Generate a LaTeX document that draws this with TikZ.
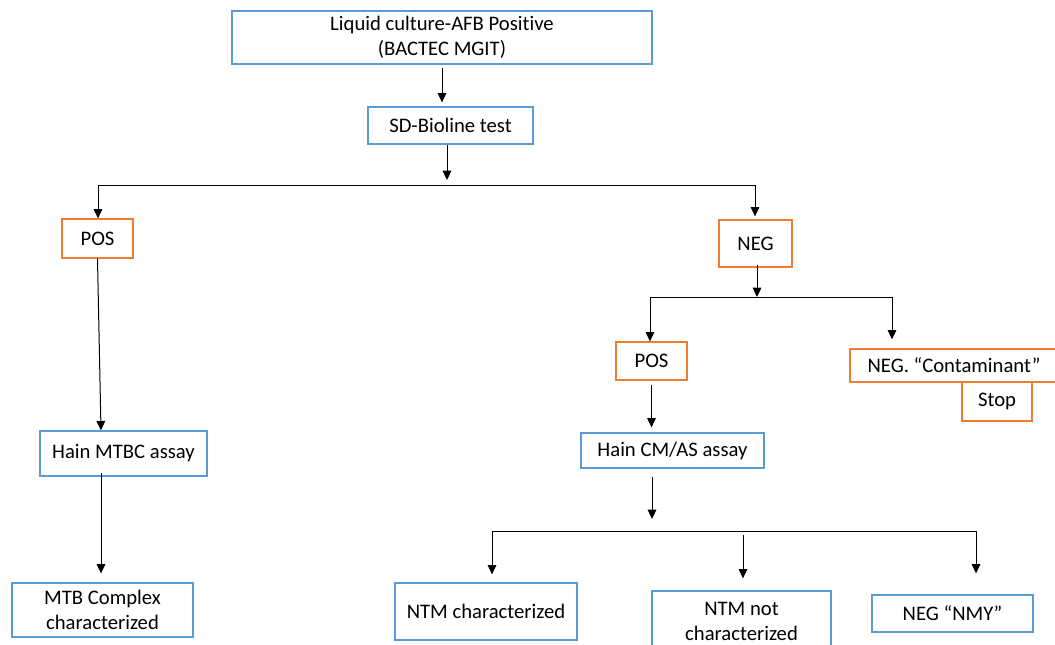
\documentclass[tikz,border=0pt]{standalone}
\usepackage{fontspec}
\setmainfont{Carlito}[Ligatures={NoCommon}]
\usepackage{tikz}
\usetikzlibrary{arrows.meta}
\definecolor{boxblue}{HTML}{5B9BD5}
\definecolor{boxorange}{HTML}{ED7D31}
\begin{document}
\begin{tikzpicture}[x=0.75pt, y=-0.75pt,
    every node/.style={font=\fontsize{15.5}{18.5}\selectfont, align=center, inner sep=0pt},
    sz/.style 2 args={minimum width=#1*0.75pt, minimum height=#2*0.75pt},
    bluebox/.style={draw=boxblue, line width=1pt},
    orangebox/.style={draw=boxorange, line width=1pt},
    arr/.style={-{Triangle[width=6.5pt, length=7pt]}, line width=0.75pt}]
            \useasboundingbox (0, 0) rectangle (1055, 644);
            \node[bluebox, sz={420}{53}] (top) at (442, 37.5) {Liquid culture-AFB Positive\\(BACTEC MGIT)};
            \node[bluebox, sz={165}{37}] (sd) at (450.5, 125.5) {SD-Bioline test};
            \node[orangebox, sz={71}{39}] (pos1) at (97.5, 238.5) {POS};
            \node[orangebox, sz={73}{47}] (neg1) at (755.5, 243.5) {NEG};
            \node[bluebox, sz={167}{45}] (mtbc) at (123.5, 453.5) {Hain MTBC assay};
            \node[bluebox, sz={181}{54}] (mtb) at (102.5, 610) {MTB Complex\\characterized};
            \node[orangebox, sz={71}{38}] (pos2) at (651.5, 361) {POS};
            \node[orangebox, sz={208}{33}] (cont) at (954, 365.5) {NEG. “Contaminant”};
            \node[orangebox, sz={70}{39}] (stop) at (997, 401.5) {Stop};
            \node[bluebox, sz={183}{35}] (cmas) at (672.5, 450.5) {Hain CM/AS assay};
            \node[bluebox, sz={182}{57}] (ntmc) at (486, 611.5) {NTM characterized};
            \node[bluebox, sz={179}{61}] (ntmn) at (741.5, 621.5) {NTM not\\characterized};
            \node[bluebox, sz={161}{37}] (nmy) at (952.5, 613.5) {NEG “NMY”};
            % joints
            \coordinate (j1) at (447, 185);
            \coordinate (b1l) at (98, 185);
            \coordinate (b1r) at (755, 185);
            \coordinate (x1) at (101, 0);
            \coordinate (j2) at (757, 297);
            \coordinate (b2l) at (650, 297);
            \coordinate (b2r) at (892, 297);
            \coordinate (j3) at (652, 531);
            \coordinate (b3l) at (492, 531);
            \coordinate (m3) at (743, 531);
            \coordinate (b3r) at (976, 531);
            \draw[arr, shorten <=2.25pt, shorten >=3pt](top.south)--(top.south |- sd.north);
            \draw[arr, shorten >=3.75pt](sd.south -| j1)--(j1);
            \draw[line width=0.75pt](b1l)--(b1r);
            \draw[arr](b1l)--(pos1.north -| b1l);
            \draw[arr, shorten >=2.25pt](b1r)--(neg1.north -| b1r);
            \draw[arr](pos1.south)--(mtbc.north -| x1);
            \draw[arr, shorten <=-3pt, shorten >=6.75pt](mtbc.south -| x1)--(mtb.north -| x1);
            \draw[arr, shorten <=-2pt](neg1.south -| j2)--(j2);
            \draw[line width=0.75pt](b2l)--(b2r);
            \draw[arr](b2l)--(pos2.north -| b2l);
            \draw[arr, shorten >=6.75pt](b2r)--(cont.north -| b2r);
            \draw[arr, shorten <=3pt, shorten >=3.75pt](pos2.south)--(pos2.south |- cmas.north);
            \draw[arr, shorten <=6pt, shorten >=9pt](cmas.south -| j3)--(j3);
            \draw[line width=0.75pt](b3l)--(b3r);
            \draw[arr, shorten >=6pt](b3l)--(ntmc.north -| b3l);
            \draw[arr, shorten <=3pt, shorten >=9pt](m3)--(ntmn.north -| m3);
            \draw[arr, shorten >=15.75pt](b3r)--(nmy.north -| b3r);
        \end{tikzpicture}
\end{document}
